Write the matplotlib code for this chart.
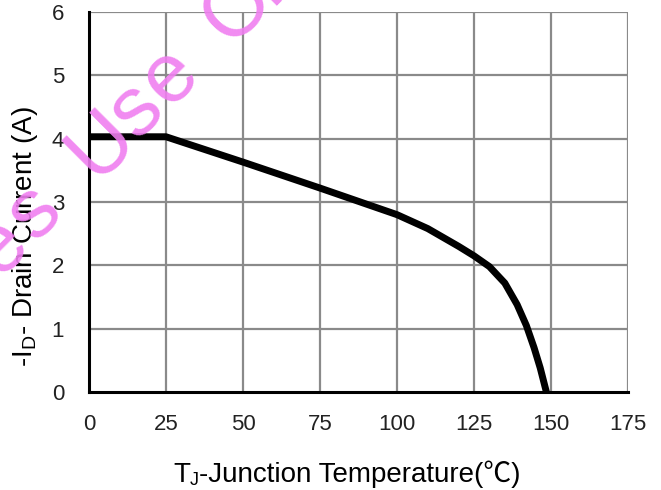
import matplotlib
matplotlib.use("Agg")
import matplotlib.pyplot as plt
import numpy as np

# data
temp_c = [0, 25, 50, 75, 100, 110, 120, 125, 130, 135, 139, 142, 144.5, 146.5, 148.5]
drain_a = [4.03, 4.03, 3.63, 3.22, 2.80, 2.58, 2.30, 2.15, 1.98, 1.72, 1.38, 1.05, 0.70, 0.38, 0.0]

x_ticks = [0, 25, 50, 75, 100, 125, 150, 175]
y_ticks = [0, 1, 2, 3, 4, 5, 6]

watermark = 'Sales Use Only'

FONTS = ['Liberation Sans', 'Noto Sans CJK SC', 'DejaVu Sans']
plt.rcParams['font.family'] = FONTS
plt.rcParams['mathtext.fontset'] = 'custom'
plt.rcParams['mathtext.rm'] = 'Liberation Sans'

W, H = 661, 490
fig = plt.figure(figsize=(W / 100, H / 100), dpi=100)
ax = fig.add_axes([89 / W, 1 - 392 / H, (628 - 89) / W, (392 - 12) / H])

grid_col = '#8a8a8a'
for xv in x_ticks[1:]:
    ax.axvline(xv, color=grid_col, lw=1.6, zorder=1)
for yv in y_ticks[1:]:
    ax.axhline(yv, color=grid_col, lw=1.6, zorder=1)

ax.plot(temp_c, drain_a, color='black', lw=5, solid_capstyle='butt', zorder=3)

ax.set_xlim(0, 175)
ax.set_ylim(0, 6)
ax.set_xticks(x_ticks)
ax.set_yticks(y_ticks)
ax.tick_params(axis='both', length=0, labelsize=16, labelcolor='#222222')
ax.tick_params(axis='x', pad=16)
ax.tick_params(axis='y', pad=18)

for side in ['top', 'right']:
    ax.spines[side].set_visible(False)
for side in ['left', 'bottom']:
    ax.spines[side].set_linewidth(2.2)
    ax.spines[side].set_color('black')
    ax.spines[side].set_zorder(4)

# y label
fig.text(25 / W, 1 - 237 / H, '-I$_\\mathregular{D}$- Drain Current (A)', fontsize=20,
         rotation=90, ha='center', va='center')

# x label built from pieces so the subscript and the ℃ sign both render
renderer = fig.canvas.get_renderer()
x0 = 173
base = 1 - 482 / H
t1 = fig.text(x0 / W, base, 'T', fontsize=20, va='baseline', ha='left')
x0 += t1.get_window_extent(renderer).width
t2 = fig.text(x0 / W, base - 3 / H, 'J', fontsize=13, va='baseline', ha='left')
x0 += t2.get_window_extent(renderer).width
fig.text(x0 / W, base, '-Junction Temperature(\u2103)', fontsize=20, va='baseline', ha='left',
         family=FONTS)

# watermark: widely tracked letters along a 45 degree line
step = 34  # px per letter in x and y
ref_i = 8  # the 'e' of "Use" sits near (168, 72)
for i, ch in enumerate(watermark):
    if ch == ' ':
        continue
    cx = 170 + step * (i - ref_i)
    cy = 76 - step * (i - ref_i)
    if cx < -30 or cy < -30 or cx > W + 30 or cy > H + 30:
        continue
    fig.text(cx / W, 1 - cy / H, ch, fontsize=60, color='#f07ef0', alpha=0.9,
             rotation=45, ha='center', va='center', zorder=10)

fig.savefig('out.png', dpi=100)
